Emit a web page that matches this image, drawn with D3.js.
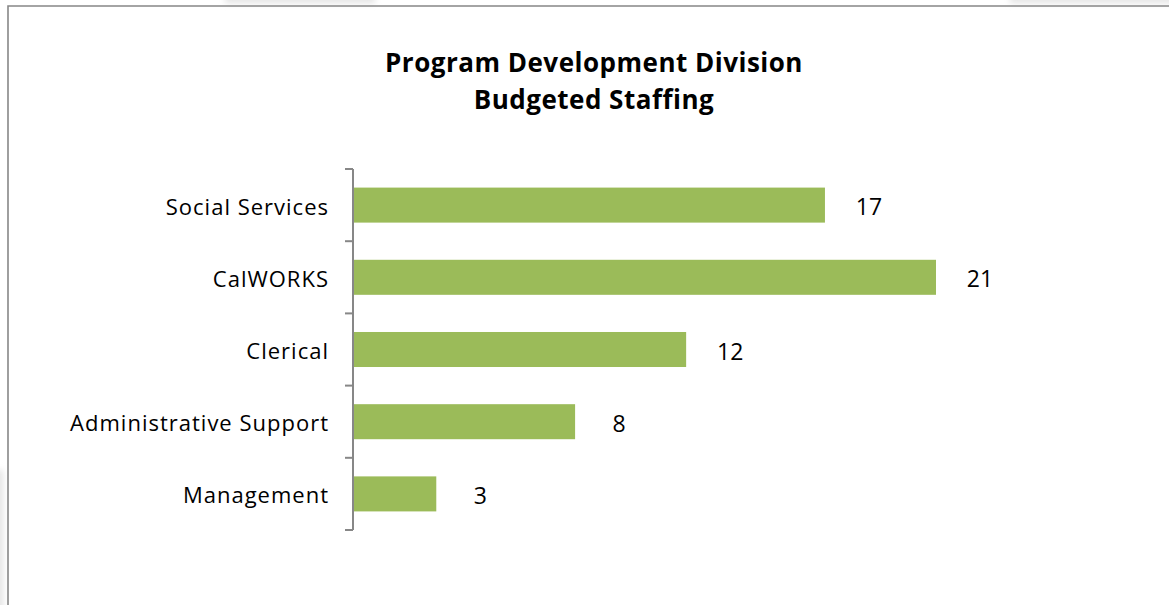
<!DOCTYPE html>
<html>
<head>
<meta charset="utf-8">
<script src="https://cdn.jsdelivr.net/npm/d3@7"></script>
<style>
  html, body { margin: 0; padding: 0; background: #fff; }
  svg { display: block; }
  text { font-family: "Open Sans", "Noto Sans", sans-serif; fill: #000; }
</style>
</head>
<body>
<svg id="chart" width="1169" height="605"></svg>
<script>
// Budgeted staffing by unit
const categories = ["Social Services", "CalWORKS", "Clerical", "Administrative Support", "Management"];
const staffCounts = [17, 21, 12, 8, 3];
const titleLines = ["Program Development Division", "Budgeted Staffing"];

const W = 1169, H = 605;
const svg = d3.select("#chart");

// soft page shadow along the top and left edges
const defs = svg.append("defs");
defs.append("filter").attr("id", "soft")
  .attr("x", "-50%").attr("y", "-50%").attr("width", "200%").attr("height", "200%")
  .append("feGaussianBlur").attr("stdDeviation", 3);
const shade = svg.append("g").attr("filter", "url(#soft)").attr("fill", "#e4e4e4");
shade.append("rect").attr("x", 225).attr("y", -6).attr("width", 150).attr("height", 9);
shade.append("rect").attr("x", 1010).attr("y", -6).attr("width", 180).attr("height", 9);
shade.append("rect").attr("x", -6).attr("y", 470).attr("width", 9).attr("height", 150);

// chart frame (top and left edges visible)
svg.append("path")
  .attr("d", `M8,${H + 2} L8,6 L${W + 2},6`)
  .attr("fill", "none")
  .attr("stroke", "#878787")
  .attr("stroke-width", 1.6);

const plotLeft = 353, plotTop = 169, plotBottom = 530;

const x = d3.scaleLinear().domain([0, 21]).range([plotLeft, 936]);
const y = d3.scaleBand()
  .domain(categories)
  .range([plotTop, plotBottom])
  .paddingInner(0.515)
  .paddingOuter(0.2575);

// title
const title = svg.append("text")
  .attr("text-anchor", "middle")
  .style("font-weight", "700")
  .style("font-size", "26px")
  .style("letter-spacing", "0.5px");
titleLines.forEach((t, i) => {
  title.append("tspan").attr("x", 594).attr("y", 72 + i * 36.5).text(t);
});

// bars
svg.append("g").selectAll("rect")
  .data(categories)
  .join("rect")
  .attr("x", x(0))
  .attr("y", d => y(d))
  .attr("width", (d, i) => x(staffCounts[i]) - x(0))
  .attr("height", y.bandwidth())
  .attr("fill", "#9BBB59");

// category axis: line with ticks at band boundaries
const axis = svg.append("g").attr("stroke", "#878787").attr("stroke-width", 2);
axis.append("line")
  .attr("x1", plotLeft).attr("x2", plotLeft)
  .attr("y1", plotTop).attr("y2", plotBottom);
const bounds = d3.range(categories.length + 1).map(i => plotTop + i * y.step());
axis.selectAll("line.tick")
  .data(bounds)
  .join("line")
  .attr("class", "tick")
  .attr("x1", plotLeft - 8).attr("x2", plotLeft)
  .attr("y1", d => d).attr("y2", d => d);

// category labels
svg.append("g").selectAll("text")
  .data(categories)
  .join("text")
  .attr("x", 329)
  .attr("y", d => y(d) + y.bandwidth() / 2 + 9.5)
  .attr("text-anchor", "end")
  .style("font-size", "22px")
  .style("letter-spacing", "1px")
  .text(d => d);

// value labels
svg.append("g").selectAll("text")
  .data(categories)
  .join("text")
  .attr("x", (d, i) => x(staffCounts[i]) + 44)
  .attr("y", d => y(d) + y.bandwidth() / 2 + 10)
  .attr("text-anchor", "middle")
  .style("font-size", "23px")
  .text((d, i) => staffCounts[i]);
</script>
</body>
</html>
